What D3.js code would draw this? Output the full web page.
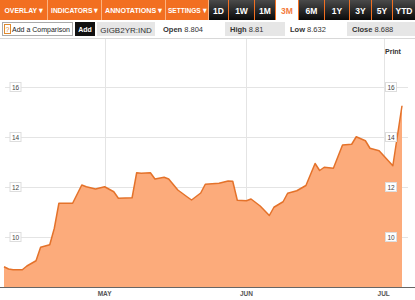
<!DOCTYPE html>
<html>
<head>
<meta charset="utf-8">
<script src="https://cdn.jsdelivr.net/npm/d3@7"></script>
<style>
  body { margin: 0; background: #fff; }
  svg { display: block; font-family: "Liberation Sans", Arial, sans-serif; }
</style>
</head>
<body>
<div id="vizContainer"></div>
<script>
var menuItems = ["OVERLAY \u25BE", "INDICATORS \u25BE", "ANNOTATIONS \u25BE", "SETTINGS \u25BE"];
var rangeItems = ["1D", "1W", "1M", "3M", "6M", "1Y", "3Y", "5Y", "YTD"];
var activeRange = "3M";
var ticker = "GIGB2YR:IND";
var quoteLabels = ["Open", "High", "Low", "Close"];
var quoteValues = ["8.804", "8.81", "8.632", "8.688"];

var dates = [
  "2012-04-09", "2012-04-10", "2012-04-11", "2012-04-13", "2012-04-14", "2012-04-16",
  "2012-04-17", "2012-04-19", "2012-04-20", "2012-04-21", "2012-04-24", "2012-04-26",
  "2012-04-27", "2012-04-29", "2012-05-01", "2012-05-03", "2012-05-04", "2012-05-07",
  "2012-05-08", "2012-05-09", "2012-05-11", "2012-05-12", "2012-05-14", "2012-05-15",
  "2012-05-17", "2012-05-19", "2012-05-20", "2012-05-22", "2012-05-23", "2012-05-26",
  "2012-05-28", "2012-05-29", "2012-05-30", "2012-06-01", "2012-06-02", "2012-06-04",
  "2012-06-06", "2012-06-07", "2012-06-09", "2012-06-10", "2012-06-12", "2012-06-14",
  "2012-06-16", "2012-06-17", "2012-06-18", "2012-06-20", "2012-06-22", "2012-06-24",
  "2012-06-25", "2012-06-27", "2012-06-28", "2012-06-30", "2012-07-02", "2012-07-03",
  "2012-07-05"
];
var values = [
  8.81, 8.72, 8.69, 8.69, 8.84, 9.05,
  9.59, 9.69, 10.35, 11.35, 11.35, 12.08,
  12.01, 11.92, 12.01, 11.81, 11.55, 11.57,
  12.57, 12.55, 12.57, 12.32, 12.39, 12.32,
  11.88, 11.61, 11.48, 11.76, 12.11, 12.15,
  12.24, 12.23, 11.47, 11.45, 11.52, 11.24,
  10.86, 11.19, 11.41, 11.75, 11.85, 12.06,
  12.94, 12.66, 12.79, 12.75, 13.68, 13.71,
  14.01, 13.85, 13.55, 13.45, 13.05, 12.85,
  15.25
];
var yTicks = [10, 12, 14, 16];
var monthTicks = ["2012-05-01", "2012-06-01", "2012-07-01"];

var width = 415, height = 300;
var parse = d3.timeParse("%Y-%m-%d");
var data = dates.map(function(d, i) { return { date: parse(d), value: values[i] }; });

var svg = d3.select("#vizContainer").append("svg")
    .attr("width", width).attr("height", height);

var defs = svg.append("defs");
var grad = defs.append("linearGradient").attr("id", "btn")
    .attr("x1", 0).attr("y1", 0).attr("x2", 0).attr("y2", 1);
grad.append("stop").attr("offset", "0%").attr("stop-color", "#4a4a4a");
grad.append("stop").attr("offset", "100%").attr("stop-color", "#0a0a0a");

// top toolbar
svg.append("rect").attr("x", 0).attr("y", 0).attr("width", width).attr("height", 20)
    .style("fill", "#f26f21");

var menuX = [0, 48, 102, 166];
var menuW = [47, 53, 63, 42];
var menuTextW = [38, 47, 57, 38];
menuItems.forEach(function(m, i) {
  svg.append("text")
    .attr("x", menuX[i] + (menuW[i] - menuTextW[i]) / 2).attr("y", 13)
    .attr("textLength", menuTextW[i]).attr("lengthAdjust", "spacingAndGlyphs")
    .style("font-size", "7.5px").style("font-weight", "bold").style("fill", "#fff")
    .text(m);
  svg.append("line")
    .attr("x1", menuX[i] + menuW[i] + 0.5).attr("x2", menuX[i] + menuW[i] + 0.5)
    .attr("y1", 0).attr("y2", 20)
    .style("stroke", "#fbb27f").style("stroke-width", 1);
});

var rangeX = [209, 229, 255, 276, 299, 325, 350, 372, 393];
var rangeW = [19, 25, 20, 22, 25, 24, 21, 20, 22];
rangeItems.forEach(function(r, i) {
  var active = r === activeRange;
  svg.append("rect")
    .attr("x", rangeX[i]).attr("y", 0).attr("width", rangeW[i]).attr("height", 20)
    .style("fill", active ? "#fff" : "url(#btn)");
  svg.append("text")
    .attr("x", rangeX[i] + rangeW[i] / 2).attr("y", 13.5)
    .attr("text-anchor", "middle")
    .style("font-size", "8.5px").style("font-weight", "bold")
    .style("fill", active ? "#f47c3c" : "#fff")
    .text(r);
});

// second row
svg.append("rect").attr("x", 2.5).attr("y", 22.5).attr("width", 70).attr("height", 13)
    .style("fill", "#fff").style("stroke", "#aaa");
svg.append("rect").attr("x", 4.5).attr("y", 24.5).attr("width", 6).attr("height", 9)
    .style("fill", "#fff").style("stroke", "#e08a2e");
svg.append("text").attr("x", 7.5).attr("y", 32).attr("text-anchor", "middle")
    .style("font-size", "7px").style("fill", "#e08a2e").text("?");
svg.append("text").attr("x", 12).attr("y", 32)
    .attr("textLength", 58).attr("lengthAdjust", "spacingAndGlyphs")
    .style("font-size", "7.5px").style("fill", "#222").text("Add a Comparison");
svg.append("rect").attr("x", 75).attr("y", 22).attr("width", 20).attr("height", 14)
    .style("fill", "#111");
svg.append("text").attr("x", 85).attr("y", 32).attr("text-anchor", "middle")
    .style("font-size", "7px").style("font-weight", "bold").style("fill", "#fff").text("Add");
svg.append("rect").attr("x", 97).attr("y", 22).attr("width", 58).attr("height", 14)
    .style("fill", "#e6e6e6");
svg.append("text").attr("x", 126).attr("y", 32.5).attr("text-anchor", "middle")
    .style("font-size", "8px").style("fill", "#333").text(ticker);

var quoteX = [163, 225, 290, 347];
var quoteBox = [false, true, false, true];
var quoteW = [0, 60, 0, 68];
quoteLabels.forEach(function(q, i) {
  if (quoteBox[i]) {
    svg.append("rect").attr("x", quoteX[i]).attr("y", 22).attr("width", quoteW[i]).attr("height", 14)
      .style("fill", "#e6e6e6");
  }
  var t = svg.append("text").attr("x", quoteX[i] + (quoteBox[i] ? 5 : 0)).attr("y", 32)
    .style("font-size", "7.5px").style("fill", "#333");
  t.append("tspan").style("font-weight", "bold").text(q + " ");
  t.append("tspan").text(quoteValues[i]);
});

svg.append("line").attr("x1", 0).attr("x2", width).attr("y1", 38.5).attr("y2", 38.5)
    .style("stroke", "#d8d8d8");

// chart
var x = d3.scaleTime()
    .domain([parse(dates[0]), parse(dates[dates.length - 1])])
    .range([4, 402]);
var y = d3.scaleLinear().domain([8, 16]).range([287, 87]);

var grid = svg.append("g");
grid.selectAll(".hgrid").data(yTicks).enter().append("line")
    .attr("x1", 5).attr("x2", 408)
    .attr("y1", function(d) { return Math.round(y(d)) + 0.5; })
    .attr("y2", function(d) { return Math.round(y(d)) + 0.5; })
    .style("stroke", "#e4e4e4");
grid.selectAll(".vgrid").data(monthTicks).enter().append("line")
    .attr("x1", function(d) { return Math.round(x(parse(d))) + 0.5; })
    .attr("x2", function(d) { return Math.round(x(parse(d))) + 0.5; })
    .attr("y1", 39).attr("y2", 287)
    .style("stroke", "#e4e4e4");

var area = d3.area()
    .x(function(d) { return x(d.date); })
    .y0(y(8))
    .y1(function(d) { return y(d.value); });
var line = d3.line()
    .x(function(d) { return x(d.date); })
    .y(function(d) { return y(d.value); });

svg.append("path").datum(data).attr("d", area)
    .style("fill", "#fcab7b");
svg.append("path").datum(data).attr("d", line)
    .style("fill", "none").style("stroke", "#e4722a").style("stroke-width", 1.5)
    .style("stroke-linejoin", "round");

// y labels (left and right)
[15.5, 391].forEach(function(cx) {
  var lab = svg.append("g").selectAll("g").data(yTicks).enter().append("g")
      .attr("transform", function(d) { return "translate(" + cx + "," + y(d) + ")"; });
  lab.append("rect").attr("x", -5.5).attr("y", -4.5).attr("width", 11).attr("height", 9)
      .style("fill", "#fff").style("stroke", "#ddd");
  lab.append("text").attr("text-anchor", "middle").attr("y", 2.5)
      .style("font-size", "6.5px").style("fill", "#444")
      .text(function(d) { return d; });
});

svg.append("text").attr("x", 385).attr("y", 54)
    .style("font-size", "7px").style("font-weight", "bold").style("fill", "#333")
    .text("Print");

// baseline and months
svg.append("line").attr("x1", 0).attr("x2", width).attr("y1", 287.5).attr("y2", 287.5)
    .style("stroke", "#666");
svg.selectAll(".month").data(monthTicks).enter().append("text")
    .attr("x", function(d) { return x(parse(d)); })
    .attr("y", 296)
    .attr("text-anchor", "middle")
    .style("font-size", "6.5px").style("font-weight", "bold").style("fill", "#555")
    .text(function(d) { return d3.timeFormat("%b")(parse(d)).toUpperCase(); });
</script>
</body>
</html>
